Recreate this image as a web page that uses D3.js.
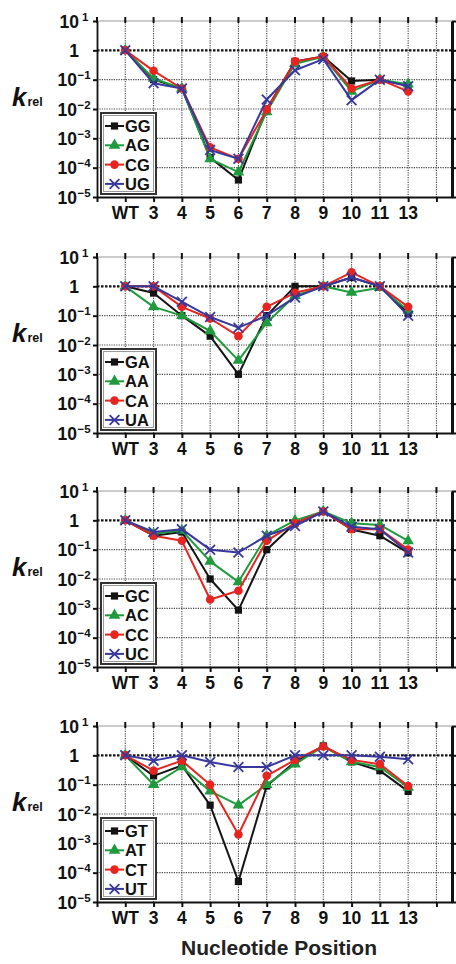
<!DOCTYPE html>
<html>
<head>
<meta charset="utf-8">
<script src="https://cdn.jsdelivr.net/npm/d3@7"></script>
<style>
  body { margin: 0; background: #fff; }
  text { font-family: 'Liberation Sans', Arial, sans-serif; font-weight: bold; }
</style>
</head>
<body>
<script>
// positions along the x axis (index 1..11)
const positions = ['WT', '3', '4', '5', '6', '7', '8', '9', '10', '11', '13'];

// panel 1
const GG = [1, 0.1, 0.05, 2.2e-4, 3.8e-5, 0.01, 0.42, 0.62, 0.09, 0.1, 0.063];
const AG = [1, 0.11, 0.05, 2e-4, 7e-5, 0.008, 0.35, 0.6, 0.04, 0.1, 0.07];
const CG = [1, 0.2, 0.05, 4.9e-4, 2e-4, 0.0095, 0.42, 0.62, 0.05, 0.1, 0.04];
const UG = [1, 0.075, 0.05, 4e-4, 2e-4, 0.021, 0.21, 0.5, 0.02, 0.1, 0.06];
// panel 2
const GA = [1, 0.59, 0.1, 0.02, 1e-3, 0.1, 1, 1, 2, 1, 0.12];
const AA = [1, 0.2, 0.1, 0.03, 3e-3, 0.057, 0.48, 1, 0.62, 0.9, 0.15];
const CA = [1, 1, 0.2, 0.08, 0.02, 0.2, 0.6, 1, 3, 1, 0.2];
const UA = [1, 1, 0.3, 0.09, 0.039, 0.1, 0.42, 1, 2, 1, 0.1];
// panel 3
const GC = [1, 0.3, 0.4, 0.01, 8.7e-4, 0.1, 0.8, 2, 0.49, 0.3, 0.078];
const AC = [1, 0.35, 0.45, 0.04, 8e-3, 0.3, 1, 2, 0.8, 0.7, 0.2];
const CC = [1, 0.3, 0.2, 2e-3, 4e-3, 0.2, 0.8, 2, 0.5, 0.5, 0.1];
const UC = [1, 0.4, 0.5, 0.1, 0.08, 0.3, 0.64, 2, 0.6, 0.5, 0.08];
// panel 4
const GT = [1, 0.2, 0.45, 0.02, 5e-5, 0.09, 0.6, 2.1, 0.6, 0.3, 0.059];
const AT = [1, 0.1, 0.4, 0.06, 0.02, 0.1, 0.5, 2, 0.6, 0.4, 0.08];
const CT = [1, 0.3, 0.66, 0.1, 2e-3, 0.2, 0.7, 2, 0.7, 0.5, 0.09];
const UT = [1, 0.66, 1, 0.59, 0.4, 0.4, 1, 1, 1, 0.9, 0.73];

const panels = [
	{ names: ['GG', 'AG', 'CG', 'UG'], values: [GG, AG, CG, UG] },
	{ names: ['GA', 'AA', 'CA', 'UA'], values: [GA, AA, CA, UA] },
	{ names: ['GC', 'AC', 'CC', 'UC'], values: [GC, AC, CC, UC] },
	{ names: ['GT', 'AT', 'CT', 'UT'], values: [GT, AT, CT, UT] }
];

const colors = ['#141414', '#1f9a3c', '#e62520', '#38389c'];
const symbols = [d3.symbolSquare, d3.symbolTriangle, d3.symbolCircle, d3.symbolX];
const symbolSizes = [52, 58, 58, 64];

const decades = [1e-5, 1e-4, 1e-3, 1e-2, 1e-1, 1, 10];

const width = 456;
const height = 964;
const tops = [21, 257, 491, 726];
const plotH = 176;

const svg = d3.select('body').append('svg').attr('width', width).attr('height', height);

const x = d3.scaleLinear().domain([0, 12.55]).range([97, 452]);

function drawMarker(g, i, cx, cy) {
	const path = d3.symbol().type(symbols[i]).size(symbolSizes[i])();
	const m = g.append('path')
		.attr('d', path)
		.attr('transform', `translate(${cx},${cy})`);
	if (i === 3) {
		m.attr('fill', 'none').attr('stroke', colors[i]).attr('stroke-width', 1.8);
	} else {
		m.attr('fill', colors[i]);
	}
}

panels.forEach((panel, p) => {
	const top = tops[p];
	const bottom = top + plotH;
	const y = d3.scaleLog().domain([1e-5, 10]).range([bottom, top]);
	const g = svg.append('g').attr('class', 'panel');

	/*
		grid
	*/
	const gGrid = g.append('g').attr('class', 'grid');
	d3.range(1, 13).forEach((i) => {
		gGrid.append('line')
			.attr('x1', x(i)).attr('x2', x(i))
			.attr('y1', top).attr('y2', bottom)
			.attr('stroke', '#444')
			.attr('stroke-width', 1.1)
			.attr('stroke-dasharray', '1.2,1.2');
	});
	decades.forEach((d) => {
		if (d === 1e-5) return;
		const line = gGrid.append('line')
			.attr('x1', x(0)).attr('x2', x(12.55))
			.attr('y1', y(d)).attr('y2', y(d));
		if (d === 1) {
			line.attr('stroke', '#111').attr('stroke-width', 2.2).attr('stroke-dasharray', '2.5,1.5');
		} else if (d === 10) {
			line.attr('stroke', '#999').attr('stroke-width', 1);
		} else {
			line.attr('stroke', '#444').attr('stroke-width', 1.1).attr('stroke-dasharray', '1.2,1.2');
		}
	});

	// ticks sticking out above the top edge
	d3.range(0, 13).forEach((i) => {
		gGrid.append('line')
			.attr('x1', x(i)).attr('x2', x(i))
			.attr('y1', top - 4).attr('y2', top + 2)
			.attr('stroke', '#111')
			.attr('stroke-width', 2);
	});

	/*
		axes
	*/
	const gY = g.append('g')
		.attr('transform', `translate(${x(0)},0)`)
		.call(d3.axisLeft(y).tickValues(decades).tickSize(4).tickSizeOuter(0).tickFormat(''));
	gY.select('.domain').attr('stroke', '#111').attr('stroke-width', 1.8);
	gY.selectAll('.tick line').attr('stroke', '#111').attr('stroke-width', 2);

	const gX = g.append('g')
		.attr('transform', `translate(0,${bottom})`)
		.call(d3.axisBottom(x).tickValues(d3.range(0, 13)).tickSize(5).tickSizeOuter(0).tickFormat(''));
	gX.select('.domain').attr('stroke', '#111').attr('stroke-width', 1.8);
	gX.selectAll('.tick line').attr('stroke', '#111').attr('stroke-width', 2);

	const gR = g.append('g')
		.attr('transform', `translate(${x(12.55)},0)`)
		.call(d3.axisRight(y).tickValues(decades).tickSize(6).tickSizeOuter(0).tickFormat(''));
	gR.select('.domain').attr('stroke', '#111').attr('stroke-width', 3);
	gR.selectAll('.tick line').attr('stroke', '#111').attr('stroke-width', 2);

	// y tick labels
	decades.forEach((d) => {
		const e = Math.round(Math.log10(d));
		const t = g.append('text')
			.attr('x', 74)
			.attr('y', y(d) + 6.5)
			.attr('text-anchor', 'middle')
			.attr('font-size', 17.5)
			.attr('fill', '#111');
		if (e === 0) {
			t.text('1');
		} else {
			t.append('tspan').text('10');
			t.append('tspan')
				.attr('font-size', 11.5)
				.attr('dy', -7)
				.attr('dx', e > 0 ? 3 : 0.5)
				.text(e > 0 ? String(e) : '\u2212' + String(-e));
		}
	});

	// x tick labels
	positions.forEach((pos, i) => {
		g.append('text')
			.attr('x', x(i + 1))
			.attr('y', bottom + 22)
			.attr('text-anchor', 'middle')
			.attr('font-size', 17.5)
			.attr('fill', '#111')
			.text(pos);
	});

	// k_rel
	const k = g.append('text')
		.attr('x', 12)
		.attr('y', top + 85)
		.attr('fill', '#111');
	k.append('tspan').attr('font-size', 26).attr('font-style', 'italic').text('k');
	k.append('tspan').attr('font-size', 12.5).attr('dx', 1).text('rel');

	/*
		series
	*/
	const line = d3.line()
		.x((d, i) => x(i + 1))
		.y((d) => y(d));

	panel.values.forEach((vals, s) => {
		g.append('path')
			.datum(vals)
			.attr('d', line)
			.attr('fill', 'none')
			.attr('stroke', colors[s])
			.attr('stroke-width', 2)
			.attr('stroke-linejoin', 'round');
		vals.forEach((v, i) => drawMarker(g, s, x(i + 1), y(v)));
	});

	/*
		legend
	*/
	const gL = g.append('g').attr('class', 'legend');
	gL.append('rect')
		.attr('x', 101).attr('y', top + 92)
		.attr('width', 55).attr('height', 81)
		.attr('fill', '#fff')
		.attr('stroke', '#333')
		.attr('stroke-width', 2);
	gL.append('rect')
		.attr('x', 103.5).attr('y', top + 94.5)
		.attr('width', 50).attr('height', 76)
		.attr('fill', 'none')
		.attr('stroke', '#999')
		.attr('stroke-width', 1);
	panel.names.forEach((name, s) => {
		const ry = top + 105 + s * 19.3;
		gL.append('line')
			.attr('x1', 105).attr('x2', 124)
			.attr('y1', ry).attr('y2', ry)
			.attr('stroke', colors[s])
			.attr('stroke-width', 2);
		drawMarker(gL, s, 114.5, ry);
		gL.append('text')
			.attr('x', 125)
			.attr('y', ry + 6)
			.attr('font-size', 16.5)
			.attr('fill', '#111')
			.text(name);
	});
});

svg.append('text')
	.attr('x', 279)
	.attr('y', 955)
	.attr('text-anchor', 'middle')
	.attr('font-size', 21)
	.attr('fill', '#222')
	.text('Nucleotide Position');
</script>
</body>
</html>
